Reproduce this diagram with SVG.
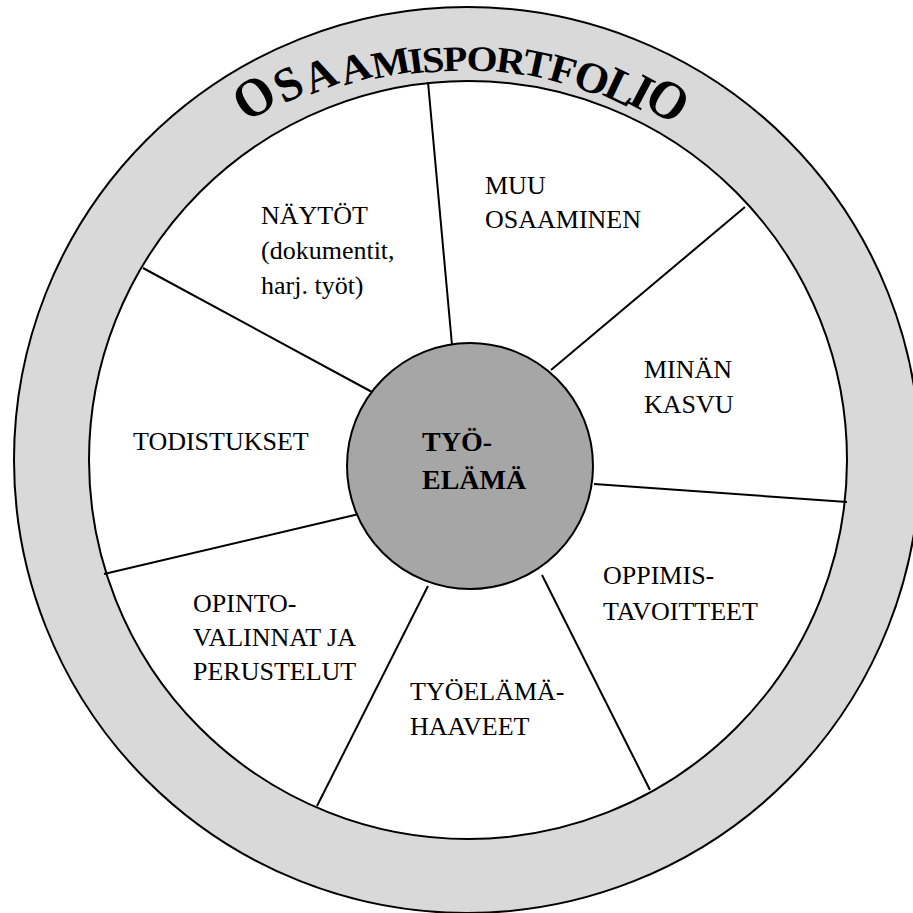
<svg xmlns="http://www.w3.org/2000/svg" width="913" height="913" viewBox="0 0 913 913">
<style>
text{font-family:"Liberation Serif","Times New Roman",serif;fill:#000}
.ring{fill:#d9d9d9;stroke:#000;stroke-width:2}
.inner{fill:#fff;stroke:#000;stroke-width:2}
.hub{fill:#a6a6a6;stroke:#000;stroke-width:2}
.spoke{stroke:#000;stroke-width:2;fill:none}
.lbl{font-size:26px}
.hubt{font-size:28px;font-weight:bold}
.arch{font-size:42px;font-weight:bold;text-anchor:middle}
</style>
<rect width="913" height="913" fill="#fff"/>
<g id="ring">
<circle class="ring" cx="467" cy="460" r="453"/>
<circle class="inner" cx="468" cy="460" r="379"/>
</g>
<g id="title">
<text class="arch" transform="translate(254,97) rotate(-33) scale(1.2,1.3)" y="14">O</text>
<text class="arch" transform="translate(288,84) rotate(-27) scale(1.12,1.15)" y="14">S</text>
<text class="arch" transform="translate(320,75) rotate(-22) scale(1.06,1.06)" y="14">A</text>
<text class="arch" transform="translate(355,68) rotate(-17) scale(1.015,0.97)" y="14">A</text>
<text class="arch" transform="translate(391,63) rotate(-11) scale(0.98,0.9)" y="14">M</text>
<text class="arch" transform="translate(416,61) rotate(-7.5) scale(0.96,0.87)" y="14">I</text>
<text class="arch" transform="translate(433,60) rotate(-5) scale(0.955,0.86)" y="14">S</text>
<text class="arch" transform="translate(455,59) rotate(-1.5) scale(0.95,0.85)" y="14">P</text>
<text class="arch" transform="translate(482,59) rotate(3) scale(0.95,0.85)" y="14">O</text>
<text class="arch" transform="translate(511,61) rotate(7.5) scale(0.96,0.87)" y="14">R</text>
<text class="arch" transform="translate(537,64) rotate(12) scale(0.98,0.91)" y="14">T</text>
<text class="arch" transform="translate(563,70) rotate(16) scale(1.01,0.95)" y="14">F</text>
<text class="arch" transform="translate(592,78) rotate(20.5) scale(1.05,1.03)" y="14">O</text>
<text class="arch" transform="translate(622,87) rotate(25.5) scale(1.1,1.12)" y="14">L</text>
<text class="arch" transform="translate(642,92) rotate(28) scale(1.13,1.18)" y="14">I</text>
<text class="arch" transform="translate(668,100) rotate(33) scale(1.19,1.29)" y="14">O</text>
</g>
<g id="connectors">
<line class="spoke" x1="428" y1="82" x2="452" y2="345"/>
<line class="spoke" x1="745" y1="207" x2="551" y2="370"/>
<line class="spoke" x1="847" y1="502" x2="594" y2="484"/>
<line class="spoke" x1="650" y1="790" x2="542" y2="575"/>
<line class="spoke" x1="317" y1="806" x2="428" y2="586"/>
<line class="spoke" x1="104" y1="574" x2="359" y2="514"/>
<line class="spoke" x1="143" y1="268" x2="372" y2="392"/>
</g>
<g id="hub">
<circle class="hub" cx="470" cy="466" r="123"/>
<text class="hubt" x="422" y="451">TYÖ-</text>
<text class="hubt" x="422" y="489">ELÄMÄ</text>
</g>
<g id="naytot">
<text class="lbl" x="261" y="224">NÄYTÖT</text>
<text class="lbl" x="261" y="259">(dokumentit,</text>
<text class="lbl" x="261" y="294">harj. työt)</text>
</g>
<g id="muu">
<text class="lbl" x="485" y="194">MUU</text>
<text class="lbl" x="485" y="228">OSAAMINEN</text>
</g>
<g id="minan">
<text class="lbl" x="644" y="378">MINÄN</text>
<text class="lbl" x="644" y="413">KASVU</text>
</g>
<g id="oppimis">
<text class="lbl" x="603" y="584">OPPIMIS-</text>
<text class="lbl" x="603" y="620">TAVOITTEET</text>
</g>
<g id="haaveet">
<text class="lbl" x="410" y="700">TYÖELÄMÄ-</text>
<text class="lbl" x="410" y="735">HAAVEET</text>
</g>
<g id="opinto">
<text class="lbl" x="193" y="612">OPINTO-</text>
<text class="lbl" x="193" y="646">VALINNAT JA</text>
<text class="lbl" x="193" y="680">PERUSTELUT</text>
</g>
<g id="todistukset">
<text class="lbl" x="133" y="450">TODISTUKSET</text>
</g>
</svg>
